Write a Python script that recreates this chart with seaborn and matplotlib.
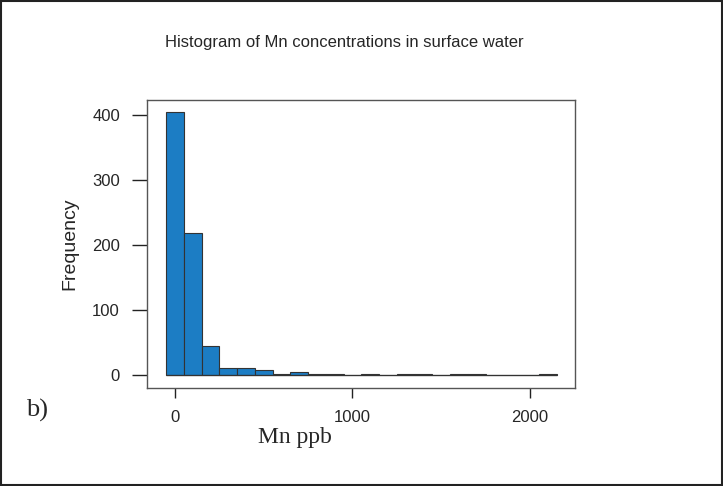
import matplotlib
matplotlib.use("Agg")
import matplotlib.pyplot as plt
import seaborn as sns
import numpy as np

# Data (bin centers in ppb, bin width 100)
bin_centers = [0, 100, 200, 300, 400, 500, 600, 700, 800, 900, 1000,
               1100, 1200, 1300, 1400, 1500, 1600, 1700, 1800, 1900, 2000, 2100]
counts = [405, 218, 45, 10, 10, 7, 2, 4, 2, 1, 0,
          1, 0, 1, 1, 0, 2, 1, 0, 0, 0, 1]
bin_edges = [c - 50 for c in bin_centers] + [bin_centers[-1] + 50]
x_ticks = [0, 1000, 2000]
y_ticks = [0, 100, 200, 300, 400]

sns.set_style("white")
plt.rcParams['font.family'] = ['Liberation Sans', 'DejaVu Sans']

fig = plt.figure(figsize=(7.23, 4.86), dpi=100)
ax = fig.add_axes([147/723, 1 - 388/486, 428/723, 288/486])

sns.histplot(x=bin_centers, weights=counts, bins=bin_edges, ax=ax,
             color="#1c7dc4", edgecolor="#333333", linewidth=0.8, alpha=1.0)
# baseline under empty bins
ax.hlines(0, bin_edges[0], bin_edges[-1], color="#333333", linewidth=0.9, zorder=3)

ax.set_xlim(-158, 2254)
ax.set_ylim(-20, 423)
ax.set_xticks(x_ticks)
ax.set_yticks(y_ticks)
ax.tick_params(axis='x', direction='out', length=7.5, width=1, color='#222222',
               labelsize=12, pad=8, bottom=True)
ax.tick_params(axis='y', direction='out', length=10.5, width=1, color='#222222',
               labelsize=12, pad=9, left=True)
for s in ax.spines.values():
    s.set_color('#555555')
    s.set_linewidth(1.0)
ax.set_xlabel("")
ax.set_ylabel("Frequency", fontsize=14, labelpad=10)

fig.text(344/723, 1 - 42/486, "Histogram of Mn concentrations in surface water",
         ha='center', va='center', fontsize=12)
fig.text(295/723, 1 - 437/486, "Mn ppb", ha='center', va='center',
         fontsize=17, family=['Liberation Serif', 'DejaVu Serif'])
fig.text(37/723, 1 - 410/486, "b)", ha='center', va='center',
         fontsize=19, family=['Liberation Serif', 'DejaVu Serif'])

# frame around figure
fig.patches.append(plt.Rectangle((0.002, 0.003), 0.996, 0.994, transform=fig.transFigure,
                                 fill=False, edgecolor='#222222', linewidth=1.5))

fig.savefig("out.png", dpi=100)
